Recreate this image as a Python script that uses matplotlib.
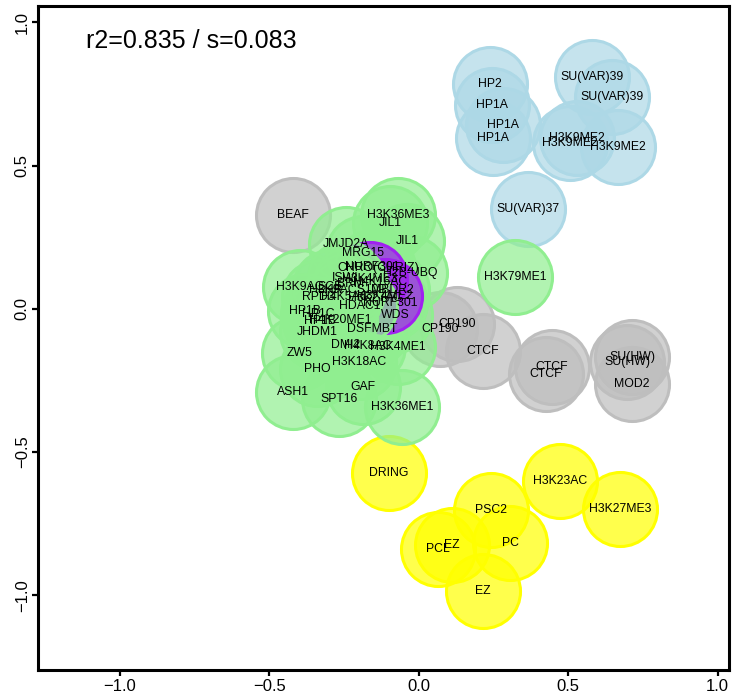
import matplotlib
matplotlib.use("Agg")
import matplotlib.pyplot as plt

plt.rcParams["font.family"] = ["Liberation Sans", "DejaVu Sans"]

# クラスタ別のラベルと座標
blue_labels = ["HP2", "HP1A", "HP1A", "HP1A", "SU(VAR)39", "SU(VAR)39",
               "H3K9ME2", "H3K9ME2", "H3K9ME2", "SU(VAR)37", "LHR"]
blue_x = [0.239, 0.245, 0.282, 0.249, 0.580, 0.647, 0.530, 0.506, 0.667, 0.366, -0.296]
blue_y = [0.784, 0.710, 0.640, 0.595, 0.808, 0.738, 0.595, 0.577, 0.564, 0.347, 0.064]

gray_labels = ["BEAF", "CP190", "CP190", "CTCF", "CTCF", "CTCF", "SU(HW)", "SU(HW)", "MOD2"]
gray_x = [-0.420, 0.128, 0.072, 0.215, 0.446, 0.426, 0.714, 0.697, 0.714]
gray_y = [0.326, -0.054, -0.072, -0.148, -0.204, -0.229, -0.169, -0.187, -0.263]

yellow_labels = ["DRING", "H3K23AC", "H3K27ME3", "PSC2", "PC", "PCL", "EZ", "EZ"]
yellow_x = [-0.099, 0.473, 0.674, 0.242, 0.306, 0.065, 0.112, 0.215]
yellow_y = [-0.574, -0.602, -0.700, -0.703, -0.818, -0.840, -0.826, -0.986]

purple_labels = ["H3K4ME3", "H3K4ME2"]
purple_x = [-0.162, -0.112]
purple_y = [0.104, 0.045]

# 緑クラスタ（外側）
green_labels = ["H3K36ME3", "JIL1", "JIL1", "JMJD2A", "MRG15", "H3K79ME1", "H3K9AC",
                "RPD3", "HP1B", "HP1C", "HP1B", "JHDM1", "DSFMBT", "DMI2", "H4K8AC",
                "H3K4ME1", "ZW5", "H3K18AC", "PHO", "GAF", "ASH1", "SPT16", "H3K36ME1"]
green_x = [-0.069, -0.096, -0.039, -0.243, -0.186, 0.322, -0.396,
           -0.335, -0.380, -0.336, -0.329, -0.340, -0.156, -0.246, -0.169,
           -0.069, -0.400, -0.199, -0.339, -0.186, -0.420, -0.266, -0.056]
green_y = [0.326, 0.298, 0.236, 0.225, 0.194, 0.110, 0.075,
           0.040, -0.009, -0.019, -0.044, -0.082, -0.072, -0.127, -0.131,
           -0.134, -0.156, -0.187, -0.211, -0.274, -0.291, -0.316, -0.344]

# 緑クラスタ（中心の密集部分、右側）
core_r_labels = ["CHRO(CHRIZ)", "NURF301", "H2B-UBQ", "H4K16AC", "MBDR2",
                 "H3K27AC", "NURF301", "WDS"]
core_r_x = [-0.136, -0.156, -0.029, -0.129, -0.089, -0.146, -0.096, -0.079]
core_r_y = [0.141, 0.145, 0.124, 0.093, 0.065, 0.037, 0.019, -0.023]

# 緑クラスタ（中心の密集部分、左側）
core_l_labels = ["ISWI", "BRM", "SCE", "H3K9ACS10P", "H4K5AC", "HDAC1", "H4K20ME1"]
core_l_x = [-0.246, -0.229, -0.296, -0.236, -0.246, -0.196, -0.262]
core_l_y = [0.106, 0.085, 0.075, 0.065, 0.040, 0.009, -0.040]

# 描画順（後ろから）
groups = [
    (blue_labels, blue_x, blue_y, "#ADD8E6", 0.7),
    (gray_labels, gray_x, gray_y, "#BEBEBE", 0.7),
    (yellow_labels, yellow_x, yellow_y, "#FFFF00", 0.7),
    (green_labels, green_x, green_y, "#90EE90", 0.7),
    (core_r_labels, core_r_x, core_r_y, "#90EE90", 0.7),
    (purple_labels, purple_x, purple_y, "#A020F0", 0.75),
    (core_l_labels, core_l_x, core_l_y, "#90EE90", 0.7),
]

fig = plt.figure(figsize=(7.32, 6.96), dpi=100)
ax = fig.add_axes([0.052, 0.037, 0.944, 0.954])

# 円を描画
for labels, xs, ys, col, a in groups:
    ax.scatter(xs, ys, s=2840, c=[matplotlib.colors.to_rgba(col, a)],
               edgecolors=col, linewidths=2.2, zorder=2)

# ラベルは最後に重ねる
for labels, xs, ys, col, a in groups:
    for lab, x, y in zip(labels, xs, ys):
        ax.text(x, y, lab, ha="center", va="center", fontsize=8.8, color="black", zorder=3)

ax.text(-1.112, 0.934, "r2=0.835 / s=0.083", ha="left", va="center", fontsize=18)

ax.set_xlim(-1.273, 1.038)
ax.set_ylim(-1.262, 1.056)
ax.set_xticks([-1.0, -0.5, 0.0, 0.5, 1.0])
ax.set_yticks([-1.0, -0.5, 0.0, 0.5, 1.0])
ax.set_xticklabels(["\u22121.0", "\u22120.5", "0.0", "0.5", "1.0"])
ax.set_yticklabels(["\u22121.0", "\u22120.5", "0.0", "0.5", "1.0"], rotation=90, va="center")
ax.tick_params(direction="out", length=4, width=1.6, labelsize=12, pad=2)

for sp in ax.spines.values():
    sp.set_linewidth(2.2)
    sp.set_zorder(5)

fig.savefig("out.png", dpi=100)
